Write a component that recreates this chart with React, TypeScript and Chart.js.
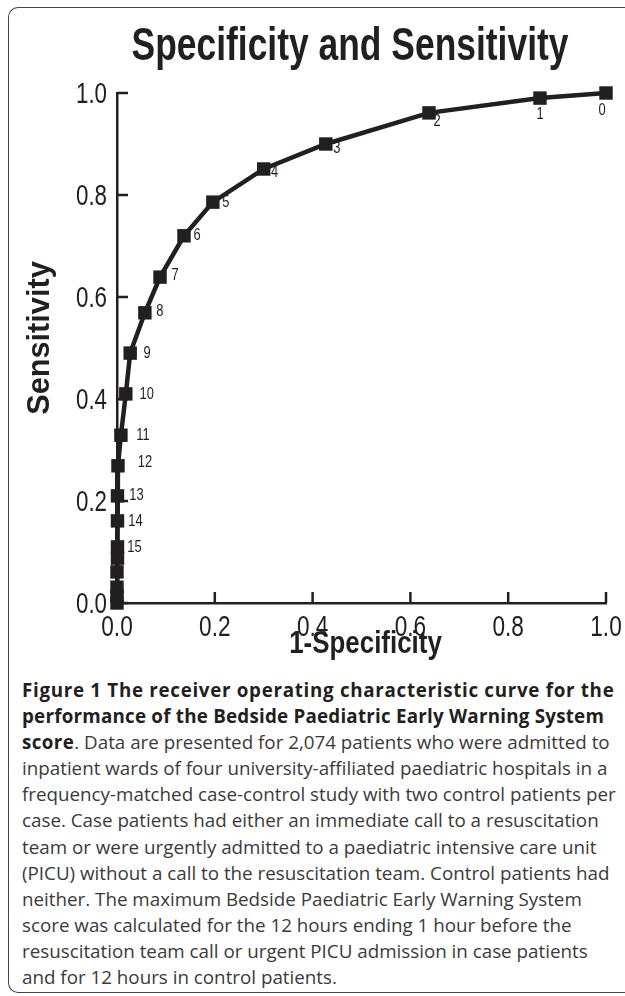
import React, { useEffect, useRef } from "react";
import { Chart, registerables } from "chart.js";

Chart.register(...registerables);

// ---- data ----
const scoreLabels = ["0", "1", "2", "3", "4", "5", "6", "7", "8", "9", "10", "11", "12", "13", "14", "15", "", "", "", "", ""];
const oneMinusSpecificity = [1.0, 0.865, 0.638, 0.427, 0.3, 0.196, 0.137, 0.088, 0.057, 0.027, 0.018, 0.008, 0.002, 0.001, 0.001, 0.001, 0.001, 0.0, 0.0, 0.0, 0.0];
const sensitivity = [1.0, 0.99, 0.961, 0.9, 0.851, 0.786, 0.72, 0.639, 0.569, 0.49, 0.41, 0.329, 0.269, 0.21, 0.161, 0.11, 0.088, 0.061, 0.031, 0.014, 0.0];
const xTickValues = [0, 0.2, 0.4, 0.6, 0.8, 1.0];
const yTickValues = [0, 0.2, 0.4, 0.6, 0.8, 1.0];

const chartTitle = "Specificity and Sensitivity";
const xTitle = "1-Specificity";
const yTitle = "Sensitivity";

// label placement offsets (px) relative to each point (style only)
const labelOffsets: [number, number][] = [
  [-4, 17], [0, 16], [8, 8], [11, 4], [11, 3], [13, 0], [13, 0], [15, -2], [15, -1], [17, 0],
  [21, 0], [22, 0], [27, -3], [19, -1], [18, 0], [17, 0],
];

const INK = "#231f20";
const SANS = "'Liberation Sans', Arial, Helvetica, sans-serif";

function drawText(
  ctx: CanvasRenderingContext2D,
  text: string,
  x: number,
  y: number,
  font: string,
  sx: number,
  align: CanvasTextAlign,
  rotation = 0,
  baseline: CanvasTextBaseline = "alphabetic"
) {
  ctx.save();
  ctx.translate(x, y);
  if (rotation) ctx.rotate(rotation);
  ctx.scale(sx, 1);
  ctx.font = font;
  ctx.fillStyle = INK;
  ctx.textAlign = align;
  ctx.textBaseline = baseline;
  ctx.fillText(text, 0, 0);
  ctx.restore();
}

const fmt = (v: number) => Number(v).toFixed(1);

const axisDecor = {
  id: "axisDecor",
  beforeDatasetsDraw(chart: any) {
    const { ctx, chartArea } = chart;
    const x = chart.scales.x;
    const y = chart.scales.y;
    ctx.save();
    ctx.strokeStyle = INK;
    ctx.lineWidth = 2.5;
    ctx.beginPath();
    for (const t of x.ticks) {
      const px = x.getPixelForValue(t.value);
      ctx.moveTo(px, chartArea.bottom);
      ctx.lineTo(px, chartArea.bottom - 11);
    }
    for (const t of y.ticks) {
      const py = y.getPixelForValue(t.value);
      ctx.moveTo(chartArea.left, py);
      ctx.lineTo(chartArea.left + 11, py);
    }
    ctx.stroke();
    ctx.restore();

    // tick labels (condensed, Helvetica-Condensed look)
    for (const t of x.ticks) {
      drawText(ctx, fmt(t.value), x.getPixelForValue(t.value), chartArea.bottom + 33, `29px ${SANS}`, 0.78, "center");
    }
    for (const t of y.ticks) {
      drawText(ctx, fmt(t.value), chartArea.left - 10, y.getPixelForValue(t.value) + 9.5, `29px ${SANS}`, 0.77, "right");
    }
    // axis titles
    drawText(ctx, xTitle, (chartArea.left + chartArea.right) / 2 + 4, chartArea.bottom + 50, `bold 32px ${SANS}`, 0.81, "center");
    drawText(ctx, yTitle, 48.5, (chartArea.top + chartArea.bottom) / 2 - 10, `bold 31px ${SANS}`, 0.99, "center", -Math.PI / 2);
    // chart title
    drawText(ctx, chartTitle, 350, chartArea.top - 33, `bold 46px ${SANS}`, 0.77, "center");
  },
};

const pointLabels = {
  id: "pointLabels",
  afterDatasetsDraw(chart: any) {
    const { ctx } = chart;
    const meta = chart.getDatasetMeta(0);
    meta.data.forEach((pt: any, i: number) => {
      const text = scoreLabels[i];
      if (!text) return;
      const off = labelOffsets[i] || [15, 0];
      drawText(ctx, text, pt.x + off[0], pt.y + off[1], `17px ${SANS}`, 0.76, "center", 0, "middle");
    });
  },
};

const captionLines: { bold?: string; text?: string; ls?: number }[] = [
  { bold: "Figure 1 The receiver operating characteristic curve for the", ls: 0.69 },
  { bold: "performance of the Bedside Paediatric Early Warning System", ls: 0.22 },
  { bold: "score", text: ". Data are presented for 2,074 patients who were admitted to", ls: 0.4 },
  { text: "inpatient wards of four university-affiliated paediatric hospitals in a" },
  { text: "frequency-matched case-control study with two control patients per" },
  { text: "case. Case patients had either an immediate call to a resuscitation" },
  { text: "team or were urgently admitted to a paediatric intensive care unit" },
  { text: "(PICU) without a call to the resuscitation team. Control patients had" },
  { text: "neither. The maximum Bedside Paediatric Early Warning System" },
  { text: "score was calculated for the 12 hours ending 1 hour before the" },
  { text: "resuscitation team call or urgent PICU admission in case patients" },
  { text: "and for 12 hours in control patients." },
];

export default function App() {
  const canvasRef = useRef<HTMLCanvasElement | null>(null);

  useEffect(() => {
    const canvas = canvasRef.current;
    if (!canvas) return;
    const chart = new Chart(canvas, {
      type: "scatter",
      data: {
        datasets: [
          {
            label: yTitle,
            data: oneMinusSpecificity.map((x, i) => ({ x, y: sensitivity[i] })),
            showLine: true,
            borderColor: INK,
            borderWidth: 4.5,
            pointStyle: "rect",
            pointRadius: 9.5,
            pointBackgroundColor: INK,
            pointBorderColor: INK,
            pointBorderWidth: 0,
            clip: false,
          } as any,
        ],
      },
      options: {
        responsive: false,
        animation: false,
        devicePixelRatio: 1,
        layout: { padding: { left: 0, right: 19, top: 93, bottom: 0 } },
        plugins: {
          legend: { display: false },
          tooltip: { enabled: false },
          title: { display: false, text: chartTitle },
        },
        scales: {
          x: {
            type: "linear",
            min: 0,
            max: 1,
            afterBuildTicks: (s: any) => {
              s.ticks = xTickValues.map((v) => ({ value: v }));
            },
            afterFit: (s: any) => {
              s.height = 67;
            },
            ticks: { display: false },
            grid: { display: false, drawTicks: false },
            border: { display: true, color: INK, width: 2.5 },
            title: { display: false, text: xTitle },
          },
          y: {
            type: "linear",
            min: 0,
            max: 1,
            afterBuildTicks: (s: any) => {
              s.ticks = yTickValues.map((v) => ({ value: v }));
            },
            afterFit: (s: any) => {
              s.width = 117;
            },
            ticks: { display: false },
            grid: { display: false, drawTicks: false },
            border: { display: true, color: INK, width: 2.5 },
            title: { display: false, text: yTitle },
          },
        },
      } as any,
      plugins: [axisDecor, pointLabels],
    });
    return () => chart.destroy();
  }, []);

  return (
    <div style={{ position: "absolute", left: 0, top: 0, width: 625, height: 996, overflow: "hidden", background: "#fff" }}>
      <div
        style={{
          position: "absolute",
          left: 8,
          top: 7,
          width: 617,
          height: 986,
          boxSizing: "border-box",
          border: "1.5px solid #444",
          borderRight: "none",
          borderRadius: "10px 0 0 10px",
        }}
      />
      <canvas ref={canvasRef} width={625} height={670} style={{ position: "absolute", left: 0, top: 0, width: 625, height: 670 }} />
      <div
        style={{
          position: "absolute",
          left: 22,
          top: 677,
          fontFamily: "'Open Sans', 'Noto Sans', sans-serif",
          fontSize: 18.8,
          lineHeight: "26.1px",
          color: "#3a3a3a",
          whiteSpace: "nowrap",
        }}
      >
        {captionLines.map((ln, i) => (
          <div key={i}>
            {ln.bold ? <span style={{ fontWeight: 700, color: INK, letterSpacing: ln.ls ?? 0.5 }}>{ln.bold}</span> : null}
            {ln.text ? <span>{ln.text}</span> : null}
          </div>
        ))}
      </div>
    </div>
  );
}
